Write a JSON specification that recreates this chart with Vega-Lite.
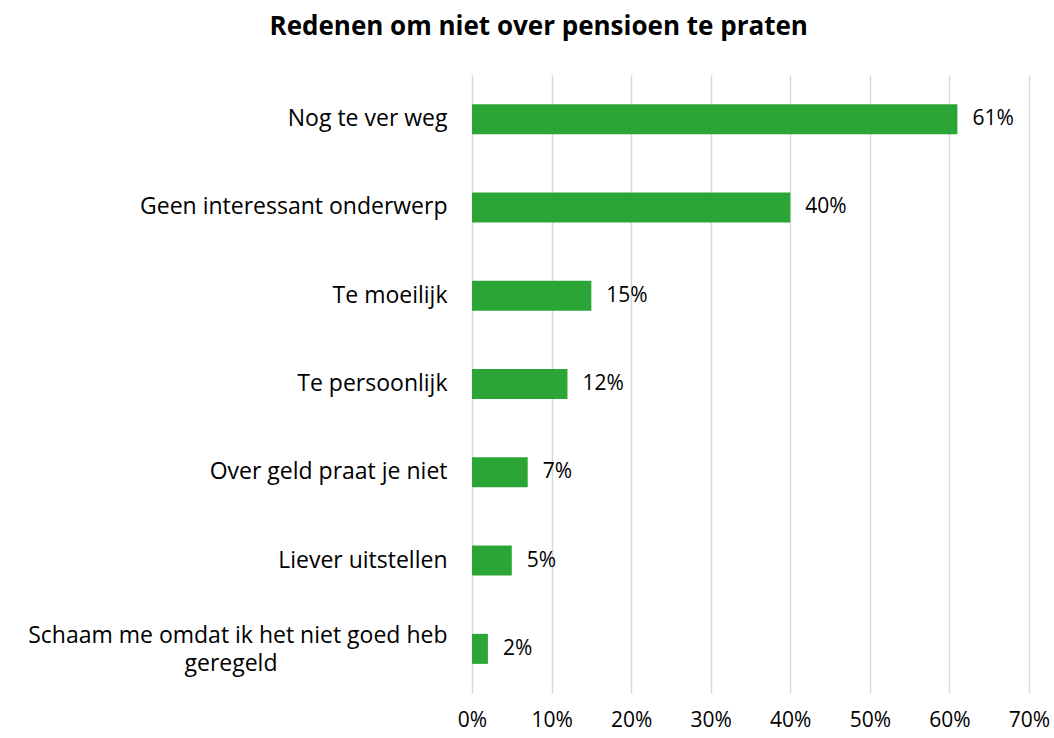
{
  "$schema": "https://vega.github.io/schema/vega-lite/v6.json",
  "width": 557,
  "height": 618,
  "autosize": {"type": "none"},
  "padding": {"left": 472, "top": 75, "right": 25, "bottom": 45},
  "background": "white",
  "title": {
    "text": "Redenen om niet over pensioen te praten",
    "font": "Open Sans",
    "fontSize": 26,
    "fontWeight": "bold",
    "color": "#000000",
    "anchor": "middle",
    "frame": "bounds",
    "offset": 35
  },
  "data": {
    "values": [
      {"reden": "Nog te ver weg", "pct": 0.61},
      {"reden": "Geen interessant onderwerp", "pct": 0.40},
      {"reden": "Te moeilijk", "pct": 0.15},
      {"reden": "Te persoonlijk", "pct": 0.12},
      {"reden": "Over geld praat je niet", "pct": 0.07},
      {"reden": "Liever uitstellen", "pct": 0.05},
      {"reden": "Schaam me omdat ik het niet goed heb geregeld", "pct": 0.02}
    ]
  },
  "encoding": {
    "y": {
      "field": "reden",
      "type": "nominal",
      "sort": null,
      "scale": {"paddingInner": 0.66, "paddingOuter": 0.33},
      "axis": {
        "title": null,
        "domain": false,
        "ticks": false,
        "grid": false,
        "labelFont": "Open Sans",
        "labelFontSize": 23,
        "labelColor": "#000000",
        "labelPadding": 25,
        "labelLimit": 600,
        "labelLineHeight": 28,
        "labelOffset": {"condition": {"test": "datum.value == 'Schaam me omdat ik het niet goed heb geregeld'", "value": -13}, "value": 0},
        "labelExpr": "datum.value == 'Schaam me omdat ik het niet goed heb geregeld' ? ['Schaam me omdat ik het niet goed heb', 'geregeld\u2800\u2800\u2800\u2800\u2800\u2800\u2800\u2800\u2800\u2800'] : datum.value"
      }
    },
    "x": {
      "field": "pct",
      "type": "quantitative",
      "scale": {"domain": [0, 0.7], "nice": false},
      "axis": {
        "title": null,
        "values": [0, 0.1, 0.2, 0.3, 0.4, 0.5, 0.6, 0.7],
        "format": ".0%",
        "labelFlush": false,
        "labelOverlap": false,
        "domain": false,
        "ticks": false,
        "grid": true,
        "gridColor": "#d9d9d9",
        "gridWidth": 1.5,
        "labelFont": "Open Sans",
        "labelFontSize": 21,
        "labelColor": "#000000",
        "labelPadding": 16
      }
    }
  },
  "layer": [
    {"mark": {"type": "bar", "color": "#2ca537"}},
    {
      "mark": {"type": "text", "align": "left", "baseline": "middle", "dx": 15, "font": "Open Sans", "fontSize": 21, "color": "#000000"},
      "encoding": {"text": {"field": "pct", "type": "quantitative", "format": ".0%"}}
    }
  ],
  "config": {"view": {"stroke": null}}
}
